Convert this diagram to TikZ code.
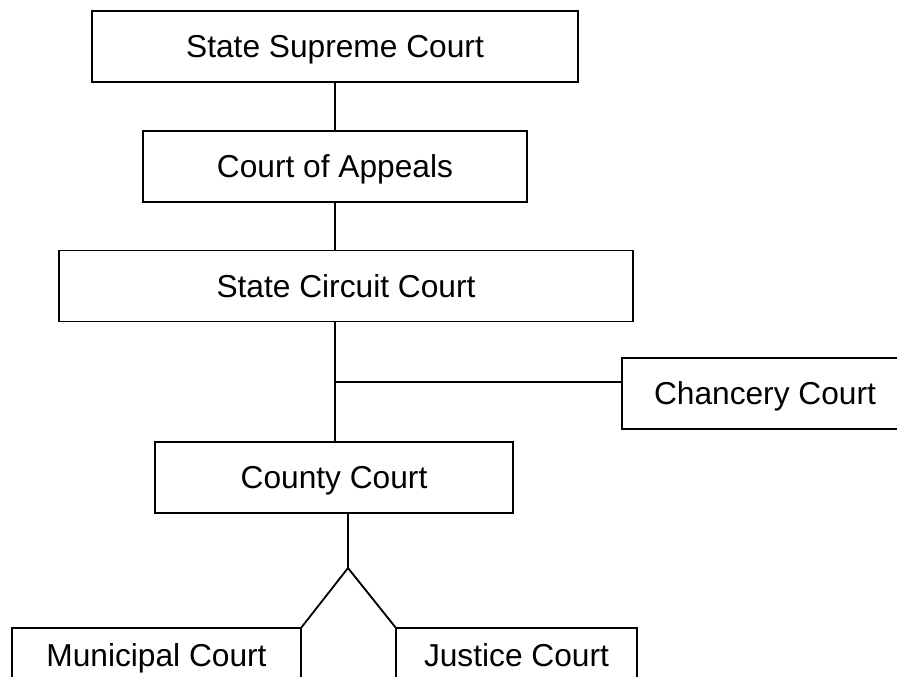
\documentclass[tikz,border=0pt]{standalone}
\usepackage{fontspec}
\setmainfont{Liberation Sans}
\usepackage{xcolor}
\usepackage{tikz}
\usetikzlibrary{calc, positioning}
\definecolor{Ink}{HTML}{000000}

\tikzset{
  courtbox/.style={draw=Ink, fill=white, line width=1.8pt, inner sep=0pt,
                   outer sep=0pt, minimum height=71pt, text=Ink,
                   text height=22.7pt, text depth=0pt,
                   font=\fontsize{31.7}{38}\selectfont},
  link/.style={draw=Ink, line width=1.8pt}
}

\begin{document}
\begin{tikzpicture}[x=1pt, y=-1pt]
  % page frame, boxes on the edges run off it
  \clip (0,0) rectangle (897,677);
  \fill[white] (0,0) rectangle (897,677);

  % Court boxes
  \node[courtbox, minimum width=486pt] (supreme)   at (335, 46.5)  {State Supreme Court};
  \node[courtbox, minimum width=384pt] (appeals)   at (335,166.5)  {Court of Appeals};
  \node[courtbox, minimum width=574pt] (circuit)   at (346,286)    {State Circuit Court};
  \node[courtbox, minimum width=286pt] (chancery)  at (765,393.5)  {Chancery Court};
  \node[courtbox, minimum width=358pt] (county)    at (334,477.5)  {County Court};
  \node[courtbox, minimum width=289pt, minimum height=54pt] (municipal) at (156.5,655) {Municipal Court};
  \node[courtbox, minimum width=241pt, minimum height=54pt] (justice)   at (516.5,655) {Justice Court};

  % Connectors
  \coordinate (branch) at (335,382);
  \coordinate (fork)   at (348,568);
  \draw[link] (supreme.south) -- (appeals.north);
  \draw[link] (appeals.south) -- (appeals.south |- circuit.north);
  \draw[link] (appeals.south |- circuit.south) -- (appeals.south |- county.north);
  \draw[link] (branch) -- (branch -| chancery.west);
  \draw[link] (fork |- county.south) -- (fork);
  \draw[link] (municipal.north east) -- (fork) -- (justice.north west);
  % bottom boxes run past the page edge
  \draw[link] (municipal.south west) -- ++(0,30);
  \draw[link] (municipal.south east) -- ++(0,30);
  \draw[link] (justice.south west) -- ++(0,30);
  \draw[link] (justice.south east) -- ++(0,30);
\end{tikzpicture}
\end{document}
